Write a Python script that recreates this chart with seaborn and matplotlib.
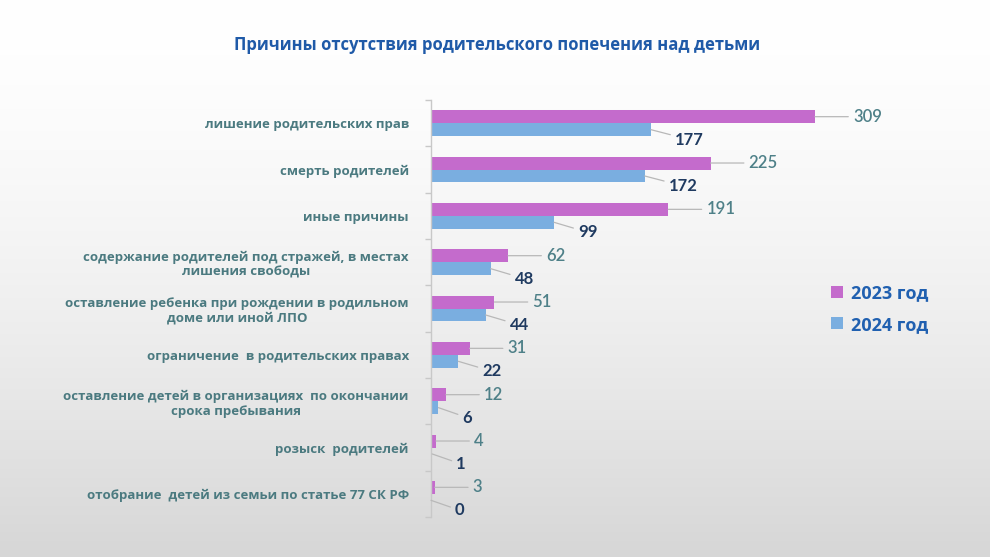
import numpy as np
import pandas as pd
import matplotlib
matplotlib.use("Agg")
import matplotlib.pyplot as plt
import seaborn as sns

categories = [
    "лишение родительских прав",
    "смерть родителей",
    "иные причины",
    "содержание родителей под стражей, в местах\nлишения свободы",
    "оставление ребенка при рождении в родильном\nдоме или иной ЛПО",
    "ограничение  в родительских правах",
    "оставление детей в организациях  по окончании\nсрока пребывания",
    "розыск  родителей",
    "отобрание  детей из семьи по статье 77 СК РФ",
]
values_2023 = [309, 225, 191, 62, 51, 31, 12, 4, 3]
values_2024 = [177, 172, 99, 48, 44, 22, 6, 1, 0]
series = ["2023 год", "2024 год"]
colors = ["#c46bcc", "#7aaee0"]
title = "Причины отсутствия родительского попечения над детьми"

df = pd.DataFrame({
    "cat": categories * 2,
    "value": values_2023 + values_2024,
    "year": [series[0]] * len(categories) + [series[1]] * len(categories),
})

sns.set_theme(style="white")
plt.rcParams["font.family"] = ["Open Sans", "DejaVu Sans"]

fig = plt.figure(figsize=(9.9, 5.57), dpi=100)

# background gradient
bg = fig.add_axes([0, 0, 1, 1], zorder=-10)
rows = np.arange(557)
g = np.clip(rows / 556, 0, 1) ** 1.6
shade = 1.0 - 0.16 * g
img = np.dstack([shade, shade, shade]).reshape(557, 1, 3)
bg.imshow(img, aspect="auto", extent=[0, 1, 0, 1], interpolation="bilinear")
bg.axis("off")

ax = fig.add_axes([431 / 990, 1 - 517 / 557, 497 / 990, 417 / 557])
ax.patch.set_alpha(0)
sns.barplot(data=df, y="cat", x="value", hue="year", orient="h",
            palette=colors, width=0.56, ax=ax, legend=True, saturation=1,
            edgecolor="none")

ax.set_xlim(0, 400)
ax.set_ylim(len(categories) - 0.5, -0.5)
ax.set_xlabel("")
ax.set_ylabel("")
ax.set_xticks([])
for s in ["top", "right", "bottom"]:
    ax.spines[s].set_visible(False)
ax.spines["left"].set_color("#c8c8c8")
ax.spines["left"].set_linewidth(1)

ax.set_yticks(np.arange(-0.5, len(categories), 1), minor=True)
ax.tick_params(axis="y", which="minor", length=4, color="#c8c8c8", width=1, left=True)
ax.tick_params(axis="y", which="major", length=0, pad=16)
for lab in ax.get_yticklabels():
    lab.set_fontsize(9.5)
    lab.set_fontweight("bold")
    lab.set_color("#4b7a80")
    lab.set_ha("right")
    lab.set_multialignment("center")

# value labels with leader lines
containers = ax.containers
for ci, cont in enumerate(containers):
    for bar in cont:
        w = bar.get_width()
        yc = bar.get_y() + bar.get_height() / 2
        if ci == 0:
            ax.annotate(f"{int(round(w))}", xy=(w, yc), xycoords="data",
                        xytext=(38, 0), textcoords="offset pixels",
                        ha="left", va="center", fontsize=12,
                        color="#4e8088", family=["Lato", "DejaVu Sans"],
                        fontweight="semibold",
                        arrowprops=dict(arrowstyle="-", color="#b8b8b8", lw=0.9,
                                        shrinkA=1, shrinkB=0))
        else:
            ax.annotate(f"{int(round(w))}", xy=(w, yc), xycoords="data",
                        xytext=(24, -10), textcoords="offset pixels",
                        ha="left", va="center", fontsize=12,
                        color="#1f3a60", family=["Lato", "DejaVu Sans"],
                        fontweight="bold",
                        arrowprops=dict(arrowstyle="-", color="#b8b8b8", lw=0.9,
                                        shrinkA=1, shrinkB=0))

leg = ax.legend(handles=ax.get_legend().legend_handles, labels=series,
                loc="upper left", bbox_to_anchor=(815 / 990, 1 - 268 / 557),
                bbox_transform=fig.transFigure, frameon=False,
                handlelength=0.65, handleheight=0.65, handletextpad=0.45,
                labelspacing=0.75, fontsize=13)
for t in leg.get_texts():
    t.set_color("#2060b0")
    t.set_fontweight("bold")

fig.text(497 / 990, 1 - 45 / 557, title, ha="center", va="center",
         fontsize=12, fontweight="bold", color="#1f5aa8")

fig.savefig("out.png", dpi=100)
